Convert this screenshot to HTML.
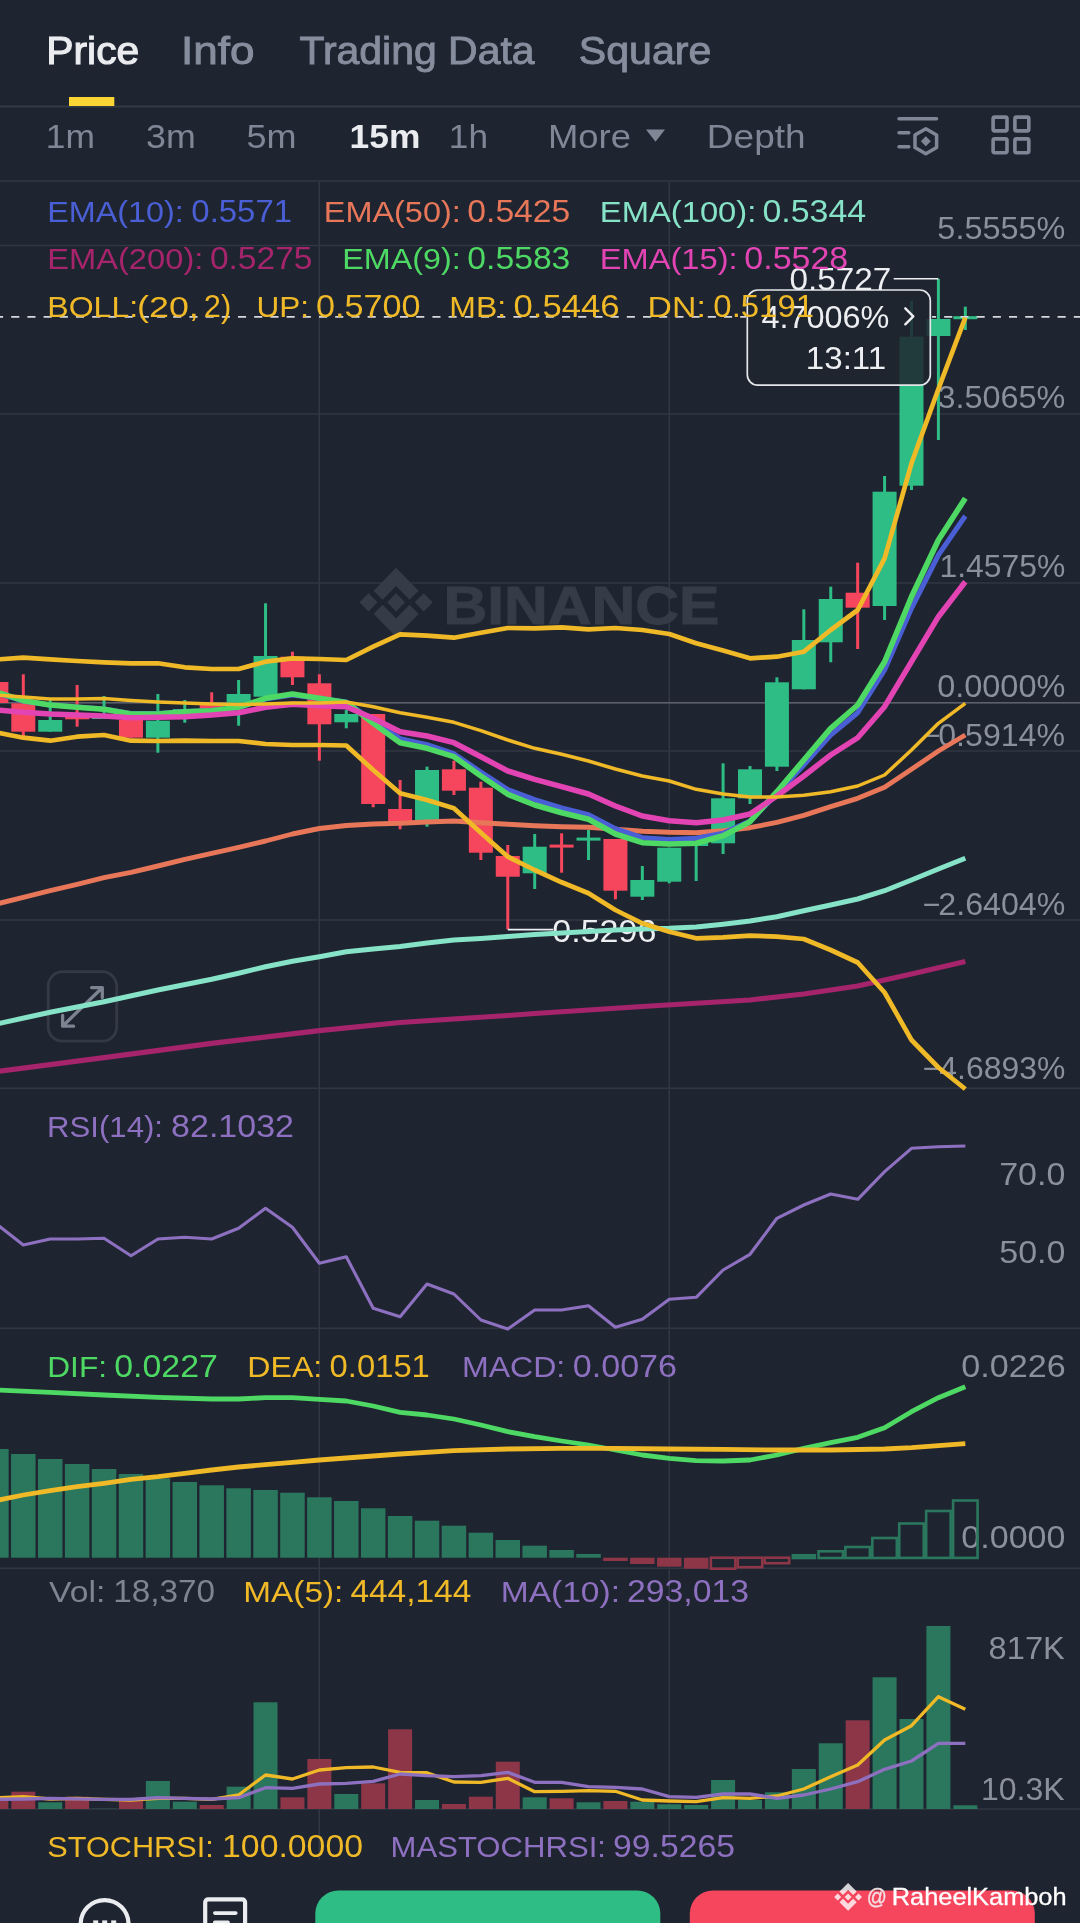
<!DOCTYPE html>
<html><head><meta charset="utf-8"><title>Chart</title>
<style>
html,body{margin:0;padding:0;background:#1f2530;}
body{width:1080px;height:1923px;overflow:hidden;font-family:"Liberation Sans",sans-serif;}
svg{display:block;font-family:"Liberation Sans",sans-serif;}
text{white-space:pre;} svg{will-change:transform;}
</style></head><body>
<svg width="1080" height="1923" viewBox="0 0 1080 1923">
<rect x="0" y="0" width="1080" height="1923" fill="#1f2530"/>

<g stroke="#313743" stroke-width="1.5">
<line x1="0" y1="245.5" x2="1080" y2="245.5"/>
<line x1="0" y1="414" x2="1080" y2="414"/>
<line x1="0" y1="583" x2="1080" y2="583"/>
<line x1="0" y1="751" x2="1080" y2="751"/>
<line x1="0" y1="920" x2="1080" y2="920"/>
<line x1="0" y1="1088.3" x2="1080" y2="1088.3"/>
<line x1="0" y1="1328.3" x2="1080" y2="1328.3"/>
<line x1="0" y1="1568.3" x2="1080" y2="1568.3"/>
<line x1="0" y1="1809" x2="1080" y2="1809"/>
<line x1="319.3" y1="181" x2="319.3" y2="1860"/>
<line x1="669.3" y1="181" x2="669.3" y2="1860"/>
</g>
<rect x="0" y="105.5" width="1080" height="2" fill="#333a46"/>
<rect x="0" y="180" width="1080" height="2" fill="#2c323d"/>
<rect x="0" y="702" width="1080" height="1.6" fill="#5b616c"/>
<g fill="#353c48" transform="translate(396.1 602.3) scale(1.045 1.06) translate(-395.7 -601.8)">
<path d="M395.7,593.1999999999999 L404.3,601.8 L395.7,610.4 L387.09999999999997,601.8 Z M369.3,593.1999999999999 L377.90000000000003,601.8 L369.3,610.4 L360.7,601.8 Z M422.09999999999997,593.1999999999999 L430.7,601.8 L422.09999999999997,610.4 L413.49999999999994,601.8 Z"/>
<path d="M395.7,569.3 L417.2,590.8 L408.59999999999997,599.4 L395.7,586.5 L382.8,599.4 L374.2,590.8 Z"/>
<path d="M395.7,634.3 L417.2,612.8 L408.59999999999997,604.1999999999999 L395.7,617.0999999999999 L382.8,604.1999999999999 L374.2,612.8 Z"/>
</g>
<text x="443.51" y="623.6" font-size="54.5" fill="#353c48" font-weight="bold" textLength="275.82" lengthAdjust="spacingAndGlyphs" stroke="#353c48" stroke-width="1.0" >BINANCE</text>
<rect x="48.2" y="971.7" width="68.5" height="69.5" rx="14.5" fill="#1f2530" stroke="#333945" stroke-width="2.8"/>
<g stroke="#7c8391" stroke-width="3.3" fill="none" stroke-linecap="round" stroke-linejoin="round"><path d="M64.6,1024.2 L100.6,989.3 M91.6,987.6 L102.3,987.6 L102.3,997.6 M62.6,1015.3 L62.6,1026.2 L73.6,1026.2"/></g>
<text x="937.38" y="239.3" font-size="31.0" fill="#8a909c" font-weight="normal" textLength="127.91" lengthAdjust="spacingAndGlyphs" >5.5555%</text>
<text x="937.49" y="408.3" font-size="31.0" fill="#8a909c" font-weight="normal" textLength="127.81" lengthAdjust="spacingAndGlyphs" >3.5065%</text>
<text x="939.56" y="577.0" font-size="31.0" fill="#8a909c" font-weight="normal" textLength="125.68" lengthAdjust="spacingAndGlyphs" >1.4575%</text>
<text x="937.22" y="697.0" font-size="31.0" fill="#8a909c" font-weight="normal" textLength="128.10" lengthAdjust="spacingAndGlyphs" >0.0000%</text>
<text x="922.44" y="746.0" font-size="31.0" fill="#8a909c" font-weight="normal" textLength="17.73" lengthAdjust="spacingAndGlyphs" >−</text>
<text x="938.24" y="746.0" font-size="31.0" fill="#8a909c" font-weight="normal" textLength="126.82" lengthAdjust="spacingAndGlyphs" >0.5914%</text>
<text x="922.44" y="914.5" font-size="31.0" fill="#8a909c" font-weight="normal" textLength="17.73" lengthAdjust="spacingAndGlyphs" >−</text>
<text x="938.38" y="914.5" font-size="31.0" fill="#8a909c" font-weight="normal" textLength="126.90" lengthAdjust="spacingAndGlyphs" >2.6404%</text>
<text x="922.44" y="1079.2" font-size="31.0" fill="#8a909c" font-weight="normal" textLength="17.73" lengthAdjust="spacingAndGlyphs" >−</text>
<text x="939.34" y="1079.2" font-size="31.0" fill="#8a909c" font-weight="normal" textLength="125.99" lengthAdjust="spacingAndGlyphs" >4.6893%</text>
<text x="999.20" y="1185.3" font-size="31.0" fill="#8a909c" font-weight="normal" textLength="66.23" lengthAdjust="spacingAndGlyphs" >70.0</text>
<text x="999.24" y="1262.7" font-size="31.0" fill="#8a909c" font-weight="normal" textLength="66.26" lengthAdjust="spacingAndGlyphs" >50.0</text>
<text x="961.16" y="1377.0" font-size="31.0" fill="#8a909c" font-weight="normal" textLength="104.50" lengthAdjust="spacingAndGlyphs" >0.0226</text>
<text x="961.35" y="1548.3" font-size="31.0" fill="#8a909c" font-weight="normal" textLength="104.13" lengthAdjust="spacingAndGlyphs" >0.0000</text>
<text x="988.64" y="1658.5" font-size="31.0" fill="#8a909c" font-weight="normal" textLength="76.18" lengthAdjust="spacingAndGlyphs" >817K</text>
<text x="980.94" y="1800.0" font-size="31.0" fill="#8a909c" font-weight="normal" textLength="83.73" lengthAdjust="spacingAndGlyphs" >10.3K</text>
<rect x="-5.11" y="676.0" width="3.0" height="30.0" fill="#f6465d"/>
<rect x="-15.61" y="682.0" width="24.0" height="21.0" fill="#f6465d"/>
<rect x="21.80" y="674.3" width="3.0" height="62.4" fill="#f6465d"/>
<rect x="11.30" y="703.3" width="24.0" height="28.4" fill="#f6465d"/>
<rect x="48.72" y="700.0" width="3.0" height="31.7" fill="#2ebd85"/>
<rect x="38.22" y="720.0" width="24.0" height="11.7" fill="#2ebd85"/>
<rect x="75.63" y="685.0" width="3.0" height="41.7" fill="#f6465d"/>
<rect x="65.13" y="714.0" width="24.0" height="5.3" fill="#f6465d"/>
<rect x="102.55" y="696.0" width="3.0" height="23.0" fill="#2ebd85"/>
<rect x="92.05" y="715.0" width="24.0" height="4.0" fill="#2ebd85"/>
<rect x="129.46" y="720.0" width="3.0" height="17.7" fill="#f6465d"/>
<rect x="118.96" y="720.0" width="24.0" height="17.7" fill="#f6465d"/>
<rect x="156.38" y="694.0" width="3.0" height="58.7" fill="#2ebd85"/>
<rect x="145.88" y="720.7" width="24.0" height="17.0" fill="#2ebd85"/>
<rect x="183.29" y="700.0" width="3.0" height="22.7" fill="#2ebd85"/>
<rect x="172.79" y="709.0" width="24.0" height="5.0" fill="#2ebd85"/>
<rect x="210.21" y="692.3" width="3.0" height="17.7" fill="#f6465d"/>
<rect x="199.71" y="705.0" width="24.0" height="5.0" fill="#f6465d"/>
<rect x="237.12" y="680.0" width="3.0" height="45.7" fill="#2ebd85"/>
<rect x="226.62" y="694.0" width="24.0" height="8.7" fill="#2ebd85"/>
<rect x="264.03" y="603.3" width="3.0" height="93.4" fill="#2ebd85"/>
<rect x="253.53" y="656.0" width="24.0" height="40.7" fill="#2ebd85"/>
<rect x="290.95" y="651.7" width="3.0" height="33.3" fill="#f6465d"/>
<rect x="280.45" y="656.7" width="24.0" height="20.6" fill="#f6465d"/>
<rect x="317.87" y="674.3" width="3.0" height="86.4" fill="#f6465d"/>
<rect x="307.37" y="683.3" width="24.0" height="41.0" fill="#f6465d"/>
<rect x="344.78" y="710.0" width="3.0" height="18.3" fill="#2ebd85"/>
<rect x="334.28" y="714.0" width="24.0" height="8.3" fill="#2ebd85"/>
<rect x="371.69" y="714.0" width="3.0" height="93.3" fill="#f6465d"/>
<rect x="361.19" y="714.0" width="24.0" height="90.0" fill="#f6465d"/>
<rect x="398.61" y="780.0" width="3.0" height="49.3" fill="#f6465d"/>
<rect x="388.11" y="809.0" width="24.0" height="12.7" fill="#f6465d"/>
<rect x="425.52" y="766.7" width="3.0" height="60.0" fill="#2ebd85"/>
<rect x="415.02" y="770.0" width="24.0" height="50.0" fill="#2ebd85"/>
<rect x="452.44" y="760.7" width="3.0" height="34.3" fill="#f6465d"/>
<rect x="441.94" y="769.3" width="24.0" height="21.4" fill="#f6465d"/>
<rect x="479.36" y="781.7" width="3.0" height="78.3" fill="#f6465d"/>
<rect x="468.86" y="787.7" width="24.0" height="65.0" fill="#f6465d"/>
<rect x="506.27" y="845.0" width="3.0" height="84.3" fill="#f6465d"/>
<rect x="495.77" y="856.0" width="24.0" height="20.7" fill="#f6465d"/>
<rect x="533.18" y="834.0" width="3.0" height="55.0" fill="#2ebd85"/>
<rect x="522.68" y="846.7" width="24.0" height="26.6" fill="#2ebd85"/>
<rect x="560.10" y="833.3" width="3.0" height="39.4" fill="#f6465d"/>
<rect x="549.60" y="844.6" width="24.0" height="3.0" fill="#f6465d"/>
<rect x="587.01" y="830.0" width="3.0" height="30.0" fill="#2ebd85"/>
<rect x="576.51" y="837.6" width="24.0" height="3.0" fill="#2ebd85"/>
<rect x="613.93" y="839.0" width="3.0" height="60.3" fill="#f6465d"/>
<rect x="603.43" y="839.0" width="24.0" height="51.7" fill="#f6465d"/>
<rect x="640.84" y="866.0" width="3.0" height="34.0" fill="#2ebd85"/>
<rect x="630.34" y="880.0" width="24.0" height="16.7" fill="#2ebd85"/>
<rect x="667.76" y="847.7" width="3.0" height="35.6" fill="#2ebd85"/>
<rect x="657.26" y="847.7" width="24.0" height="34.0" fill="#2ebd85"/>
<rect x="694.67" y="843.0" width="3.0" height="38.0" fill="#2ebd85"/>
<rect x="684.17" y="843.0" width="24.0" height="3.0" fill="#2ebd85"/>
<rect x="721.59" y="763.3" width="3.0" height="90.7" fill="#2ebd85"/>
<rect x="711.09" y="798.3" width="24.0" height="45.0" fill="#2ebd85"/>
<rect x="748.50" y="766.0" width="3.0" height="38.0" fill="#2ebd85"/>
<rect x="738.00" y="769.3" width="24.0" height="29.0" fill="#2ebd85"/>
<rect x="775.42" y="677.3" width="3.0" height="93.7" fill="#2ebd85"/>
<rect x="764.92" y="682.3" width="24.0" height="84.4" fill="#2ebd85"/>
<rect x="802.33" y="609.3" width="3.0" height="80.0" fill="#2ebd85"/>
<rect x="791.83" y="640.0" width="24.0" height="49.3" fill="#2ebd85"/>
<rect x="829.25" y="586.7" width="3.0" height="75.6" fill="#2ebd85"/>
<rect x="818.75" y="599.0" width="24.0" height="43.3" fill="#2ebd85"/>
<rect x="856.16" y="562.7" width="3.0" height="86.3" fill="#f6465d"/>
<rect x="845.66" y="592.7" width="24.0" height="15.0" fill="#f6465d"/>
<rect x="883.08" y="476.0" width="3.0" height="144.0" fill="#2ebd85"/>
<rect x="872.58" y="491.7" width="24.0" height="114.3" fill="#2ebd85"/>
<rect x="909.99" y="301.0" width="3.0" height="189.0" fill="#2ebd85"/>
<rect x="899.49" y="336.7" width="24.0" height="149.0" fill="#2ebd85"/>
<rect x="936.91" y="279.0" width="3.0" height="161.0" fill="#2ebd85"/>
<rect x="926.41" y="319.0" width="24.0" height="17.0" fill="#2ebd85"/>
<rect x="963.82" y="306.7" width="3.0" height="23.3" fill="#2ebd85"/>
<rect x="953.32" y="316.2" width="24.0" height="3.0" fill="#2ebd85"/>
<line x1="0" y1="316.9" x2="746" y2="316.9" stroke="#d6d8dc" stroke-width="1.6" stroke-dasharray="8.1 8.1" stroke-dashoffset="5"/>
<line x1="932" y1="316.9" x2="1080" y2="316.9" stroke="#d6d8dc" stroke-width="1.6" stroke-dasharray="8.1 8.1" stroke-dashoffset="4"/>
<rect x="747.3" y="290.0" width="183" height="95.2" rx="10.5" fill="#1f2530" fill-opacity="0.86" stroke="#e4e6ea" stroke-width="1.7"/>
<text x="761.42" y="327.7" font-size="31.0" fill="#eceef1" font-weight="normal" textLength="128.05" lengthAdjust="spacingAndGlyphs" >4.7006%</text>
<path d="M905.3,308.3 L913.3,316.3 L905.3,324.3" stroke="#eceef1" stroke-width="2.4" fill="none" stroke-linecap="round" stroke-linejoin="round"/>
<text x="805.87" y="369.4" font-size="31.0" fill="#eceef1" font-weight="normal" textLength="80.34" lengthAdjust="spacingAndGlyphs" >13:11</text>
<path d="M893.7,278.8 H938.4" stroke="#eceef1" stroke-width="1.6" fill="none"/>
<text x="789.50" y="290.4" font-size="30.6" fill="#eceef1" font-weight="normal" textLength="101.85" lengthAdjust="spacingAndGlyphs" >0.5727</text>
<path d="M507.8,929.6 H553" stroke="#eceef1" stroke-width="1.6" fill="none"/>
<text x="552.33" y="941.6" font-size="30.6" fill="#eceef1" font-weight="normal" textLength="104.05" lengthAdjust="spacingAndGlyphs" >0.5296</text>
<polyline points="-3.6,1071.5 104.0,1057.7 211.7,1043.3 319.4,1030.7 400.1,1022.5 507.8,1015.5 534.7,1013.5 642.3,1006.5 750.0,1000.0 803.8,994.0 857.7,986.0 911.5,974.0 965.3,961.5" fill="none" stroke="#a5246b" stroke-width="5.2" stroke-linejoin="round" stroke-linecap="butt" />
<polyline points="-3.6,1024.0 50.2,1012.3 104.0,1001.7 157.9,990.0 211.7,979.3 238.6,973.3 265.5,966.7 292.4,961.3 319.4,956.7 346.3,951.7 373.2,949.0 400.1,946.5 427.0,943.0 453.9,940.0 480.9,938.5 507.8,936.5 534.7,934.5 561.6,933.0 588.5,931.5 615.4,930.0 642.3,929.0 669.3,928.3 696.2,927.0 723.1,924.3 750.0,921.0 776.9,916.7 803.8,910.7 830.7,905.0 857.7,899.0 884.6,890.7 911.5,880.0 938.4,869.0 965.3,858.3" fill="none" stroke="#86e3c8" stroke-width="5.0" stroke-linejoin="round" stroke-linecap="butt" />
<polyline points="-3.6,904.0 23.3,897.3 50.2,890.7 77.1,884.3 104.0,877.7 131.0,872.3 157.9,866.0 184.8,859.3 211.7,853.3 238.6,847.3 265.5,841.0 292.4,834.0 319.4,828.5 346.3,825.5 373.2,824.0 400.1,823.3 427.0,822.0 453.9,821.0 480.9,822.7 507.8,824.3 534.7,825.7 561.6,826.7 588.5,827.3 615.4,829.3 642.3,831.3 669.3,832.3 696.2,832.7 723.1,830.7 750.0,827.7 776.9,822.3 803.8,815.3 830.7,806.7 857.7,798.3 884.6,787.3 911.5,769.3 938.4,751.0 965.3,735.0" fill="none" stroke="#e8775a" stroke-width="4.9" stroke-linejoin="round" stroke-linecap="butt" />
<polyline points="-3.6,693.0 23.3,701.0 50.2,705.0 77.1,707.0 104.0,709.0 131.0,713.5 157.9,713.5 184.8,711.5 211.7,710.5 238.6,707.5 265.5,699.0 292.4,695.0 319.4,698.5 346.3,702.0 373.2,721.0 400.1,738.7 427.0,744.7 453.9,753.7 480.9,772.0 507.8,789.7 534.7,799.7 561.6,808.0 588.5,814.7 615.4,828.7 642.3,837.7 669.3,839.4 696.2,838.3 723.1,833.3 750.0,821.0 776.9,794.0 803.8,765.0 830.7,735.0 857.7,712.7 884.6,670.0 911.5,608.3 938.4,555.0 965.3,516.0" fill="none" stroke="#4a5fd6" stroke-width="5.0" stroke-linejoin="round" stroke-linecap="butt" />
<polyline points="-3.6,692.0 23.3,700.7 50.2,705.0 77.1,707.3 104.0,709.3 131.0,714.0 157.9,714.0 184.8,711.7 211.7,710.7 238.6,707.3 265.5,698.3 292.4,694.0 319.4,698.3 346.3,702.5 373.2,723.3 400.1,742.7 427.0,748.3 453.9,756.7 480.9,776.0 507.8,794.3 534.7,805.0 561.6,812.7 588.5,819.3 615.4,834.0 642.3,842.7 669.3,844.0 696.2,843.3 723.1,835.7 750.0,821.7 776.9,791.7 803.8,760.0 830.7,728.3 857.7,705.0 884.6,661.7 911.5,596.7 938.4,540.0 965.3,498.3" fill="none" stroke="#4ed964" stroke-width="5.6" stroke-linejoin="round" stroke-linecap="butt" />
<polyline points="-3.6,710.0 23.3,712.3 50.2,714.0 77.1,715.0 104.0,716.0 131.0,717.7 157.9,717.3 184.8,716.7 211.7,715.0 238.6,712.7 265.5,707.3 292.4,704.3 319.4,705.7 346.3,706.7 373.2,718.3 400.1,731.7 427.0,736.0 453.9,742.7 480.9,756.7 507.8,771.0 534.7,779.3 561.6,786.7 588.5,794.0 615.4,806.0 642.3,816.0 669.3,820.7 696.2,822.7 723.1,820.0 750.0,814.0 776.9,796.0 803.8,776.0 830.7,755.0 857.7,737.7 884.6,706.7 911.5,661.7 938.4,616.7 965.3,581.7" fill="none" stroke="#e344b4" stroke-width="5.5" stroke-linejoin="round" stroke-linecap="butt" />
<polyline points="-3.6,695.0 23.3,697.0 50.2,699.0 77.1,699.0 104.0,698.5 131.0,700.5 157.9,702.0 184.8,703.0 211.7,704.0 238.6,704.5 265.5,704.0 292.4,703.0 319.4,703.0 346.3,702.0 373.2,706.7 400.1,712.7 427.0,717.3 453.9,722.3 480.9,730.7 507.8,740.0 534.7,748.3 561.6,754.3 588.5,761.0 615.4,769.0 642.3,776.0 669.3,781.0 696.2,789.3 723.1,794.0 750.0,797.0 776.9,797.0 803.8,795.3 830.7,791.7 857.7,786.0 884.6,775.0 911.5,750.0 938.4,723.3 965.3,703.3" fill="none" stroke="#f0b927" stroke-width="3.5" stroke-linejoin="round" stroke-linecap="butt" />
<polyline points="-3.6,659.5 23.3,657.7 50.2,659.3 77.1,661.0 104.0,662.3 131.0,663.3 157.9,663.3 184.8,667.3 211.7,669.0 238.6,669.0 265.5,661.7 292.4,658.3 319.4,659.0 346.3,660.0 373.2,646.7 400.1,634.3 427.0,635.7 453.9,637.7 480.9,632.7 507.8,628.0 534.7,628.3 561.6,627.3 588.5,629.3 615.4,628.0 642.3,630.0 669.3,634.0 696.2,643.3 723.1,650.5 750.0,658.3 776.9,656.7 803.8,651.7 830.7,630.0 857.7,610.0 884.6,558.3 911.5,463.3 938.4,389.0 965.3,317.7" fill="none" stroke="#f0b927" stroke-width="4.7" stroke-linejoin="round" stroke-linecap="butt" />
<polyline points="-3.6,732.5 23.3,737.7 50.2,740.7 77.1,736.7 104.0,735.0 131.0,740.7 157.9,741.0 184.8,740.7 211.7,741.0 238.6,741.0 265.5,744.0 292.4,745.0 319.4,745.0 346.3,745.5 373.2,770.0 400.1,793.3 427.0,800.0 453.9,808.3 480.9,832.7 507.8,856.7 534.7,870.0 561.6,882.3 588.5,893.3 615.4,910.0 642.3,923.3 669.3,931.7 696.2,938.3 723.1,937.3 750.0,935.7 776.9,936.7 803.8,939.0 830.7,950.0 857.7,962.5 884.6,992.5 911.5,1040.0 938.4,1067.5 965.3,1089.0" fill="none" stroke="#f0b927" stroke-width="4.7" stroke-linejoin="round" stroke-linecap="butt" />
<text x="47.19" y="221.7" font-size="30.200000000000003" fill="#4a5fd6" font-weight="normal" textLength="136.59" lengthAdjust="spacingAndGlyphs" >EMA(10):</text>
<text x="191.35" y="221.7" font-size="31.6" fill="#4a5fd6" font-weight="normal" textLength="100.69" lengthAdjust="spacingAndGlyphs" >0.5571</text>
<text x="323.77" y="221.7" font-size="30.200000000000003" fill="#e8775a" font-weight="normal" textLength="136.98" lengthAdjust="spacingAndGlyphs" >EMA(50):</text>
<text x="467.31" y="221.7" font-size="31.6" fill="#e8775a" font-weight="normal" textLength="103.01" lengthAdjust="spacingAndGlyphs" >0.5425</text>
<text x="599.81" y="221.7" font-size="30.200000000000003" fill="#86e3c8" font-weight="normal" textLength="156.55" lengthAdjust="spacingAndGlyphs" >EMA(100):</text>
<text x="762.41" y="221.7" font-size="31.6" fill="#86e3c8" font-weight="normal" textLength="103.74" lengthAdjust="spacingAndGlyphs" >0.5344</text>
<text x="47.19" y="269.3" font-size="30.200000000000003" fill="#a5246b" font-weight="normal" textLength="156.16" lengthAdjust="spacingAndGlyphs" >EMA(200):</text>
<text x="209.90" y="269.3" font-size="31.6" fill="#a5246b" font-weight="normal" textLength="102.64" lengthAdjust="spacingAndGlyphs" >0.5275</text>
<text x="342.32" y="269.3" font-size="30.200000000000003" fill="#4ed964" font-weight="normal" textLength="118.44" lengthAdjust="spacingAndGlyphs" >EMA(9):</text>
<text x="467.37" y="269.3" font-size="31.6" fill="#4ed964" font-weight="normal" textLength="102.99" lengthAdjust="spacingAndGlyphs" >0.5583</text>
<text x="599.78" y="269.3" font-size="30.200000000000003" fill="#e344b4" font-weight="normal" textLength="137.81" lengthAdjust="spacingAndGlyphs" >EMA(15):</text>
<text x="744.31" y="269.3" font-size="31.6" fill="#e344b4" font-weight="normal" textLength="103.92" lengthAdjust="spacingAndGlyphs" >0.5528</text>
<text x="47.26" y="316.7" font-size="30.200000000000003" fill="#f0b927" font-weight="normal" textLength="90.93" lengthAdjust="spacingAndGlyphs" >BOLL:</text>
<text x="137.11" y="316.7" font-size="30.200000000000003" fill="#f0b927" font-weight="normal" textLength="61.70" lengthAdjust="spacingAndGlyphs" >(20,</text>
<text x="203.87" y="316.7" font-size="31.6" fill="#f0b927" font-weight="normal" textLength="27.40" lengthAdjust="spacingAndGlyphs" >2)</text>
<text x="256.54" y="316.7" font-size="30.200000000000003" fill="#f0b927" font-weight="normal" textLength="52.61" lengthAdjust="spacingAndGlyphs" >UP:</text>
<text x="315.95" y="316.7" font-size="31.6" fill="#f0b927" font-weight="normal" textLength="104.48" lengthAdjust="spacingAndGlyphs" >0.5700</text>
<text x="449.38" y="316.7" font-size="30.200000000000003" fill="#f0b927" font-weight="normal" textLength="56.84" lengthAdjust="spacingAndGlyphs" >MB:</text>
<text x="513.57" y="316.7" font-size="31.6" fill="#f0b927" font-weight="normal" textLength="106.03" lengthAdjust="spacingAndGlyphs" >0.5446</text>
<text x="647.63" y="316.7" font-size="30.200000000000003" fill="#f0b927" font-weight="normal" textLength="58.17" lengthAdjust="spacingAndGlyphs" >DN:</text>
<text x="713.32" y="316.7" font-size="31.6" fill="#f0b927" font-weight="normal" textLength="100.80" lengthAdjust="spacingAndGlyphs" >0.5191</text>
<text x="47.10" y="1136.7" font-size="30.200000000000003" fill="#8e70c0" font-weight="normal" textLength="115.92" lengthAdjust="spacingAndGlyphs" >RSI(14):</text>
<text x="171.14" y="1136.7" font-size="31.6" fill="#8e70c0" font-weight="normal" textLength="122.81" lengthAdjust="spacingAndGlyphs" >82.1032</text>
<text x="47.24" y="1376.7" font-size="30.200000000000003" fill="#4ed964" font-weight="normal" textLength="59.78" lengthAdjust="spacingAndGlyphs" >DIF:</text>
<text x="114.27" y="1376.7" font-size="31.6" fill="#4ed964" font-weight="normal" textLength="103.64" lengthAdjust="spacingAndGlyphs" >0.0227</text>
<text x="247.34" y="1376.7" font-size="30.200000000000003" fill="#f0b927" font-weight="normal" textLength="74.91" lengthAdjust="spacingAndGlyphs" >DEA:</text>
<text x="329.55" y="1376.7" font-size="31.6" fill="#f0b927" font-weight="normal" textLength="100.32" lengthAdjust="spacingAndGlyphs" >0.0151</text>
<text x="461.94" y="1376.7" font-size="30.200000000000003" fill="#8e70c0" font-weight="normal" textLength="103.33" lengthAdjust="spacingAndGlyphs" >MACD:</text>
<text x="572.84" y="1376.7" font-size="31.6" fill="#8e70c0" font-weight="normal" textLength="104.18" lengthAdjust="spacingAndGlyphs" >0.0076</text>
<text x="49.12" y="1602.3" font-size="30.200000000000003" fill="#7d8592" font-weight="normal" textLength="56.26" lengthAdjust="spacingAndGlyphs" >Vol:</text>
<text x="113.17" y="1602.3" font-size="31.6" fill="#7d8592" font-weight="normal" textLength="101.97" lengthAdjust="spacingAndGlyphs" >18,370</text>
<text x="243.35" y="1602.3" font-size="30.200000000000003" fill="#f0b927" font-weight="normal" textLength="99.93" lengthAdjust="spacingAndGlyphs" >MA(5):</text>
<text x="350.41" y="1602.3" font-size="31.6" fill="#f0b927" font-weight="normal" textLength="120.86" lengthAdjust="spacingAndGlyphs" >444,144</text>
<text x="500.76" y="1602.3" font-size="30.200000000000003" fill="#8e70c0" font-weight="normal" textLength="119.27" lengthAdjust="spacingAndGlyphs" >MA(10):</text>
<text x="627.06" y="1602.3" font-size="31.6" fill="#8e70c0" font-weight="normal" textLength="122.00" lengthAdjust="spacingAndGlyphs" >293,013</text>
<text x="47.34" y="1857.0" font-size="30.200000000000003" fill="#f0b927" font-weight="normal" textLength="166.40" lengthAdjust="spacingAndGlyphs" >STOCHRSI:</text>
<text x="222.07" y="1857.0" font-size="31.6" fill="#f0b927" font-weight="normal" textLength="140.93" lengthAdjust="spacingAndGlyphs" >100.0000</text>
<text x="390.50" y="1857.0" font-size="30.200000000000003" fill="#8e70c0" font-weight="normal" textLength="215.50" lengthAdjust="spacingAndGlyphs" >MASTOCHRSI:</text>
<text x="613.05" y="1857.0" font-size="31.6" fill="#8e70c0" font-weight="normal" textLength="121.87" lengthAdjust="spacingAndGlyphs" >99.5265</text>
<polyline points="-3.6,1224.0 23.3,1245.0 50.2,1239.0 77.1,1239.0 104.0,1238.3 131.0,1255.7 157.9,1239.0 184.8,1237.3 211.7,1239.0 238.6,1228.3 265.5,1208.3 292.4,1227.3 319.4,1263.3 346.3,1256.7 373.2,1308.3 400.1,1316.7 427.0,1284.0 453.9,1294.0 480.9,1320.0 507.8,1329.0 534.7,1310.0 561.6,1310.0 588.5,1305.7 615.4,1327.3 642.3,1319.3 669.3,1299.3 696.2,1297.3 723.1,1270.0 750.0,1254.3 776.9,1218.3 803.8,1205.0 830.7,1194.0 857.7,1199.3 884.6,1171.7 911.5,1148.3 938.4,1146.7 965.3,1146.0" fill="none" stroke="#8e70c0" stroke-width="3.1" stroke-linejoin="round" stroke-linecap="butt" />
<rect x="-15.86" y="1449.0" width="24.5" height="108.7" fill="#2a775e"/>
<rect x="11.05" y="1454.0" width="24.5" height="103.7" fill="#2a775e"/>
<rect x="37.97" y="1459.0" width="24.5" height="98.7" fill="#2a775e"/>
<rect x="64.88" y="1464.0" width="24.5" height="93.7" fill="#2a775e"/>
<rect x="91.80" y="1469.0" width="24.5" height="88.7" fill="#2a775e"/>
<rect x="118.71" y="1474.0" width="24.5" height="83.7" fill="#2a775e"/>
<rect x="145.62" y="1478.3" width="24.5" height="79.4" fill="#2a775e"/>
<rect x="172.54" y="1482.0" width="24.5" height="75.7" fill="#2a775e"/>
<rect x="199.46" y="1485.3" width="24.5" height="72.4" fill="#2a775e"/>
<rect x="226.37" y="1488.3" width="24.5" height="69.4" fill="#2a775e"/>
<rect x="253.28" y="1490.0" width="24.5" height="67.7" fill="#2a775e"/>
<rect x="280.20" y="1492.7" width="24.5" height="65.0" fill="#2a775e"/>
<rect x="307.12" y="1497.3" width="24.5" height="60.4" fill="#2a775e"/>
<rect x="334.03" y="1501.0" width="24.5" height="56.7" fill="#2a775e"/>
<rect x="360.94" y="1508.3" width="24.5" height="49.4" fill="#2a775e"/>
<rect x="387.86" y="1516.0" width="24.5" height="41.7" fill="#2a775e"/>
<rect x="414.77" y="1520.7" width="24.5" height="37.0" fill="#2a775e"/>
<rect x="441.69" y="1525.7" width="24.5" height="32.0" fill="#2a775e"/>
<rect x="468.61" y="1532.7" width="24.5" height="25.0" fill="#2a775e"/>
<rect x="495.52" y="1540.0" width="24.5" height="17.7" fill="#2a775e"/>
<rect x="522.43" y="1545.7" width="24.5" height="12.0" fill="#2a775e"/>
<rect x="549.35" y="1550.0" width="24.5" height="7.7" fill="#2a775e"/>
<rect x="576.26" y="1554.0" width="24.5" height="3.7" fill="#2a775e"/>
<rect x="603.18" y="1557.7" width="24.5" height="3.3" fill="#8c3648"/>
<rect x="630.09" y="1557.7" width="24.5" height="6.3" fill="#8c3648"/>
<rect x="657.01" y="1557.7" width="24.5" height="9.0" fill="#8c3648"/>
<rect x="683.92" y="1557.7" width="24.5" height="11.0" fill="#8c3648"/>
<rect x="710.84" y="1557.7" width="24.5" height="11.0" fill="none" stroke="#8c3648" stroke-width="2.6"/>
<rect x="737.75" y="1557.7" width="24.5" height="9.5" fill="none" stroke="#8c3648" stroke-width="2.6"/>
<rect x="764.67" y="1557.7" width="24.5" height="5.5" fill="none" stroke="#8c3648" stroke-width="2.6"/>
<rect x="791.58" y="1554.0" width="24.5" height="5.3" fill="#2a775e"/>
<rect x="818.50" y="1551.3" width="24.5" height="6.7" fill="none" stroke="#2a775e" stroke-width="2.6"/>
<rect x="845.41" y="1547.0" width="24.5" height="11.0" fill="none" stroke="#2a775e" stroke-width="2.6"/>
<rect x="872.33" y="1538.0" width="24.5" height="20.0" fill="none" stroke="#2a775e" stroke-width="2.6"/>
<rect x="899.24" y="1523.5" width="24.5" height="34.4" fill="none" stroke="#2a775e" stroke-width="2.6"/>
<rect x="926.16" y="1511.0" width="24.5" height="46.9" fill="none" stroke="#2a775e" stroke-width="2.6"/>
<rect x="953.07" y="1500.5" width="24.5" height="57.4" fill="none" stroke="#2a775e" stroke-width="2.6"/>
<polyline points="-3.6,1390.0 50.2,1392.3 104.0,1395.0 157.9,1397.3 211.7,1399.0 238.6,1399.0 265.5,1397.7 292.4,1397.7 319.4,1399.3 346.3,1401.0 373.2,1406.0 400.1,1412.3 427.0,1415.0 453.9,1419.0 480.9,1425.0 507.8,1431.7 534.7,1436.7 561.6,1441.0 588.5,1445.0 615.4,1450.0 642.3,1455.0 669.3,1458.3 696.2,1460.7 723.1,1461.0 750.0,1460.0 776.9,1455.0 803.8,1448.3 830.7,1442.7 857.7,1437.3 884.6,1427.7 911.5,1411.7 938.4,1397.7 965.3,1386.7" fill="none" stroke="#4ed964" stroke-width="4.8" stroke-linejoin="round" stroke-linecap="butt" />
<polyline points="-3.6,1500.5 23.3,1495.0 50.2,1490.7 77.1,1486.7 104.0,1483.3 131.0,1479.3 157.9,1476.7 184.8,1473.3 211.7,1470.0 238.6,1467.0 265.5,1464.7 292.4,1462.3 319.4,1460.0 346.3,1458.0 373.2,1456.0 400.1,1454.0 453.9,1450.7 507.8,1449.0 561.6,1448.3 615.4,1448.3 669.3,1449.0 723.1,1449.3 776.9,1450.0 830.7,1450.0 884.6,1449.0 911.5,1447.7 938.4,1445.7 965.3,1443.7" fill="none" stroke="#f0b927" stroke-width="4.8" stroke-linejoin="round" stroke-linecap="butt" />
<rect x="-15.61" y="1797.7" width="24.0" height="11.3" fill="#8c3648"/>
<rect x="11.30" y="1791.7" width="24.0" height="17.3" fill="#8c3648"/>
<rect x="38.22" y="1802.3" width="24.0" height="6.7" fill="#2a775e"/>
<rect x="65.13" y="1796.7" width="24.0" height="12.3" fill="#8c3648"/>
<rect x="92.05" y="1808.8" width="24.0" height="0.2" fill="#2a775e"/>
<rect x="118.96" y="1800.0" width="24.0" height="9.0" fill="#8c3648"/>
<rect x="145.88" y="1781.0" width="24.0" height="28.0" fill="#2a775e"/>
<rect x="172.79" y="1801.7" width="24.0" height="7.3" fill="#2a775e"/>
<rect x="199.71" y="1805.0" width="24.0" height="4.0" fill="#8c3648"/>
<rect x="226.62" y="1786.7" width="24.0" height="22.3" fill="#2a775e"/>
<rect x="253.53" y="1702.3" width="24.0" height="106.7" fill="#2a775e"/>
<rect x="280.45" y="1797.3" width="24.0" height="11.7" fill="#8c3648"/>
<rect x="307.37" y="1759.0" width="24.0" height="50.0" fill="#8c3648"/>
<rect x="334.28" y="1794.0" width="24.0" height="15.0" fill="#2a775e"/>
<rect x="361.19" y="1783.3" width="24.0" height="25.7" fill="#8c3648"/>
<rect x="388.11" y="1729.3" width="24.0" height="79.7" fill="#8c3648"/>
<rect x="415.02" y="1800.0" width="24.0" height="9.0" fill="#2a775e"/>
<rect x="441.94" y="1804.0" width="24.0" height="5.0" fill="#8c3648"/>
<rect x="468.86" y="1796.7" width="24.0" height="12.3" fill="#8c3648"/>
<rect x="495.77" y="1761.7" width="24.0" height="47.3" fill="#8c3648"/>
<rect x="522.68" y="1797.3" width="24.0" height="11.7" fill="#2a775e"/>
<rect x="549.60" y="1798.3" width="24.0" height="10.7" fill="#8c3648"/>
<rect x="576.51" y="1802.3" width="24.0" height="6.7" fill="#2a775e"/>
<rect x="603.43" y="1801.0" width="24.0" height="8.0" fill="#8c3648"/>
<rect x="630.34" y="1801.7" width="24.0" height="7.3" fill="#2a775e"/>
<rect x="657.26" y="1804.3" width="24.0" height="4.7" fill="#2a775e"/>
<rect x="684.17" y="1805.0" width="24.0" height="4.0" fill="#2a775e"/>
<rect x="711.09" y="1780.0" width="24.0" height="29.0" fill="#2a775e"/>
<rect x="738.00" y="1800.0" width="24.0" height="9.0" fill="#2a775e"/>
<rect x="764.92" y="1792.3" width="24.0" height="16.7" fill="#2a775e"/>
<rect x="791.83" y="1769.0" width="24.0" height="40.0" fill="#2a775e"/>
<rect x="818.75" y="1743.3" width="24.0" height="65.7" fill="#2a775e"/>
<rect x="845.66" y="1720.3" width="24.0" height="88.7" fill="#8c3648"/>
<rect x="872.58" y="1677.3" width="24.0" height="131.7" fill="#2a775e"/>
<rect x="899.49" y="1719.0" width="24.0" height="90.0" fill="#2a775e"/>
<rect x="926.41" y="1626.0" width="24.0" height="183.0" fill="#2a775e"/>
<rect x="953.32" y="1805.3" width="24.0" height="3.7" fill="#2a775e"/>
<polyline points="-3.6,1797.7 23.3,1796.7 50.2,1799.0 77.1,1798.3 104.0,1799.3 131.0,1800.0 157.9,1798.3 184.8,1798.3 211.7,1799.3 238.6,1795.0 265.5,1775.0 292.4,1779.0 319.4,1770.0 346.3,1767.7 373.2,1767.0 400.1,1772.3 427.0,1772.7 453.9,1782.0 480.9,1782.3 507.8,1778.3 534.7,1791.7 561.6,1791.3 588.5,1790.7 615.4,1791.3 642.3,1800.0 669.3,1801.0 696.2,1801.7 723.1,1797.7 750.0,1798.3 776.9,1796.0 803.8,1789.0 830.7,1776.7 857.7,1765.0 884.6,1740.0 911.5,1725.7 938.4,1696.7 965.3,1709.3" fill="none" stroke="#f0b927" stroke-width="3.3" stroke-linejoin="round" stroke-linecap="butt" />
<polyline points="-3.6,1799.3 23.3,1799.0 50.2,1798.3 77.1,1798.8 104.0,1799.3 131.0,1799.3 157.9,1797.7 184.8,1798.3 211.7,1799.0 238.6,1797.7 265.5,1787.7 292.4,1788.3 319.4,1784.0 346.3,1783.3 373.2,1781.3 400.1,1774.0 427.0,1775.7 453.9,1776.7 480.9,1775.7 507.8,1772.3 534.7,1782.3 561.6,1782.3 588.5,1786.7 615.4,1787.3 642.3,1789.0 669.3,1796.7 696.2,1797.3 723.1,1794.0 750.0,1794.0 776.9,1798.3 803.8,1795.0 830.7,1789.0 857.7,1781.7 884.6,1769.3 911.5,1761.0 938.4,1743.3 965.3,1743.3" fill="none" stroke="#8e70c0" stroke-width="3.3" stroke-linejoin="round" stroke-linecap="butt" />
<text x="46.22" y="64.0" font-size="38.8" fill="#eaecef" font-weight="normal" textLength="93.07" lengthAdjust="spacingAndGlyphs" stroke="#eaecef" stroke-width="1.1" >Price</text>
<text x="181.04" y="64.0" font-size="38.8" fill="#868e9e" font-weight="normal" textLength="73.40" lengthAdjust="spacingAndGlyphs" stroke="#868e9e" stroke-width="0.9" >Info</text>
<text x="299.40" y="64.0" font-size="38.8" fill="#868e9e" font-weight="normal" textLength="235.17" lengthAdjust="spacingAndGlyphs" stroke="#868e9e" stroke-width="0.9" >Trading Data</text>
<text x="578.75" y="64.0" font-size="38.8" fill="#868e9e" font-weight="normal" textLength="132.61" lengthAdjust="spacingAndGlyphs" stroke="#868e9e" stroke-width="0.9" >Square</text>
<text x="45.76" y="148.0" font-size="33.6" fill="#7f8796" font-weight="normal" textLength="49.15" lengthAdjust="spacingAndGlyphs" >1m</text>
<text x="146.02" y="148.0" font-size="33.6" fill="#7f8796" font-weight="normal" textLength="49.72" lengthAdjust="spacingAndGlyphs" >3m</text>
<text x="246.55" y="148.0" font-size="33.6" fill="#7f8796" font-weight="normal" textLength="50.07" lengthAdjust="spacingAndGlyphs" >5m</text>
<text x="349.64" y="148.0" font-size="33.0" fill="#eaecef" font-weight="bold" textLength="70.79" lengthAdjust="spacingAndGlyphs" >15m</text>
<text x="448.89" y="148.0" font-size="33.6" fill="#7f8796" font-weight="normal" textLength="39.10" lengthAdjust="spacingAndGlyphs" >1h</text>
<text x="548.00" y="148.0" font-size="33.6" fill="#7f8796" font-weight="normal" textLength="83.02" lengthAdjust="spacingAndGlyphs" >More</text>
<text x="706.89" y="148.0" font-size="33.6" fill="#7f8796" font-weight="normal" textLength="98.73" lengthAdjust="spacingAndGlyphs" >Depth</text>
<rect x="69" y="97" width="45.3" height="9" fill="#fcd535"/>
<path d="M646,129.5 H665 L655.5,141.8 Z" fill="#7f8796"/>
<g stroke="#7f8796" stroke-width="3.5" fill="none" stroke-linecap="round" stroke-linejoin="round"><path d="M899,118.7 H936.5 M899,132.8 H908.8 M899,146.8 H908.8"/><path d="M925.8,128.7 L936.6,134.9 L936.6,147.4 L925.8,153.7 L915.0,147.4 L915.0,134.9 Z"/></g>
<path d="M925.8,136.3 L930.8,141.3 L925.8,146.3 L920.8,141.3 Z" fill="#7f8796"/>
<g stroke="#7f8796" stroke-width="3.6" fill="none" stroke-linejoin="round">
<rect x="993.1" y="117.1" width="13.9" height="13.8" rx="1.6"/>
<rect x="993.1" y="138.9" width="13.9" height="13.8" rx="1.6"/>
<rect x="1014.9" y="117.1" width="13.9" height="13.8" rx="1.6"/>
<rect x="1014.9" y="138.9" width="13.9" height="13.8" rx="1.6"/>
</g>
<rect x="315.3" y="1890.6" width="345" height="80" rx="23" fill="#2ebd85"/>
<rect x="689.8" y="1890.6" width="345" height="80" rx="23" fill="#f6465d"/>
<circle cx="104.6" cy="1924" r="23.9" fill="none" stroke="#eaecef" stroke-width="4.2"/>
<g fill="#eaecef"><rect x="93.2" y="1920.4" width="5" height="6"/><rect x="102.2" y="1920.4" width="5" height="6"/><rect x="111.2" y="1920.4" width="5" height="6"/></g>
<rect x="205.2" y="1899.3" width="39.9" height="60" rx="3" fill="none" stroke="#eaecef" stroke-width="4.2"/>
<path d="M214.8,1913.1 H235.8 M214.8,1922.2 H228" stroke="#eaecef" stroke-width="3.6" fill="none" stroke-linecap="round"/>
<g fill="#ffffff" fill-opacity="0.80">
<path d="M848.1,1893.4 L851.6,1896.9 L848.1,1900.4 L844.6,1896.9 Z M837.7,1893.4 L841.2,1896.9 L837.7,1900.4 L834.2,1896.9 Z M858.5,1893.4 L862.0,1896.9 L858.5,1900.4 L855.0,1896.9 Z"/>
<path d="M848.1,1883.0 L856.7,1891.6 L853.2,1895.1 L848.1,1890.0 L843.0,1895.1 L839.5,1891.6 Z"/>
<path d="M848.1,1910.8000000000002 L856.7,1902.2000000000003 L853.2,1898.7000000000003 L848.1,1903.8000000000002 L843.0,1898.7000000000003 L839.5,1902.2000000000003 Z"/>
</g>
<text x="866.85" y="1904.3" font-size="21.5" fill="#f3dfe3" font-weight="normal" textLength="20.10" lengthAdjust="spacingAndGlyphs" stroke="#f3dfe3" stroke-width="0.4" >@</text>
<text x="891.75" y="1904.5" font-size="24.4" fill="#ffffff" font-weight="normal" textLength="174.83" lengthAdjust="spacingAndGlyphs" stroke="#ffffff" stroke-width="0.3" >RaheelKamboh</text>
</svg></body></html>
